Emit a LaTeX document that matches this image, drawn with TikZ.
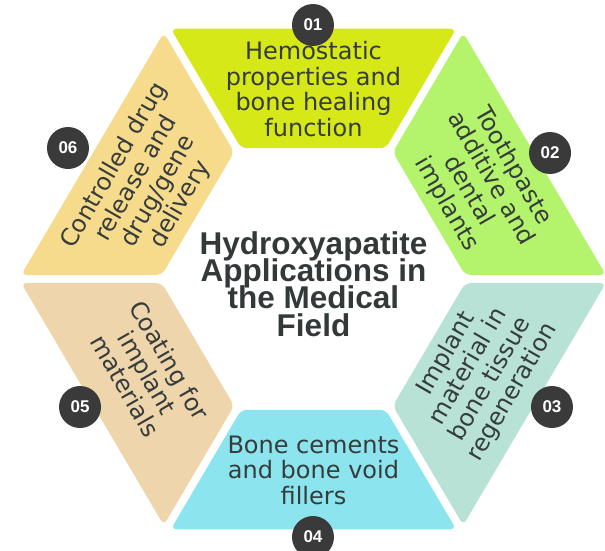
\documentclass[tikz,border=0pt]{standalone}
\usepackage{fontspec}
\setmainfont{DejaVu Sans}
\newfontfamily\titlefont{Liberation Sans}
\usepackage{xcolor}
\usepackage{tikz}
\usetikzlibrary{calc}
\definecolor{hemo}{RGB}{214,232,24}
\definecolor{tooth}{RGB}{180,244,108}
\definecolor{implant}{RGB}{184,226,214}
\definecolor{cement}{RGB}{140,229,238}
\definecolor{coating}{RGB}{238,213,172}
\definecolor{release}{RGB}{246,219,140}
\definecolor{ink}{RGB}{54,60,60}
\definecolor{badge}{RGB}{58,58,58}
\AtBeginDocument{\setlength{\lineskiplimit}{-20pt}}

\begin{document}
\begin{tikzpicture}[x=1.02pt, y=1pt,
      every node/.style={font=\fontsize{24}{25.5}\selectfont, text=ink, align=center, inner sep=0pt},
      seg/.style={rounded corners=6pt},
      title/.style={font=\titlefont\bfseries\fontsize{31.5}{27.3}\selectfont, text=ink!95!black},
      num/.style={circle, fill=badge, minimum size=42pt, text=white,
                  font=\titlefont\bfseries\fontsize{17}{17}\selectfont}]
    \useasboundingbox (-313.5pt,-271pt) rectangle (291.5pt,279pt);
    \def\ri{151} \def\ro{289} \def\gp{4.6}
    \foreach \a/\col in {60/hemo, 0/tooth, -60/implant, 240/cement, 180/coating, 120/release}
      \fill[seg, \col] ($(\a:\ri)+({\a+120}:\gp)$) -- ($(\a:\ro)+({\a+120}:\gp)$)
        -- ($({\a+60}:\ro)+({\a-60}:\gp)$) -- ($({\a+60}:\ri)+({\a-60}:\gp)$) -- cycle;
    \node[title] (title) at (0,-5) {Hydroxyapatite\\Applications in\\the Medical\\Field};
    \node (hemoTxt) at (90:190) {Hemostatic\\properties and\\bone healing\\function};
    \node[rotate=-60] (toothTxt) at (30:188) {Toothpaste\\additive and\\dental\\implants};
    \node[rotate=60] (implantTxt) at (-30:188) {Implant\\material in\\bone tissue\\regeneration};
    \node (cementTxt) at (-90:191) {Bone cements\\and bone void\\fillers};
    \node[rotate=-60] (coatingTxt) at (210:188) {Coating for\\implant\\materials};
    \node[rotate=60] (releaseTxt) at (150:188) {Controlled drug\\release and\\drug/gene\\delivery};
    \node[num] (n1) at (-0.5,254) {01};
    \node[num] (n2) at (231.9,126) {02};
    \node[num] (n3) at (233.8,-128) {03};
    \node[num] (n4) at (-0.5,-258) {04};
    \node[num] (n5) at (-228.9,-128) {05};
    \node[num] (n6) at (-240.7,131) {06};
  \end{tikzpicture}
\end{document}
